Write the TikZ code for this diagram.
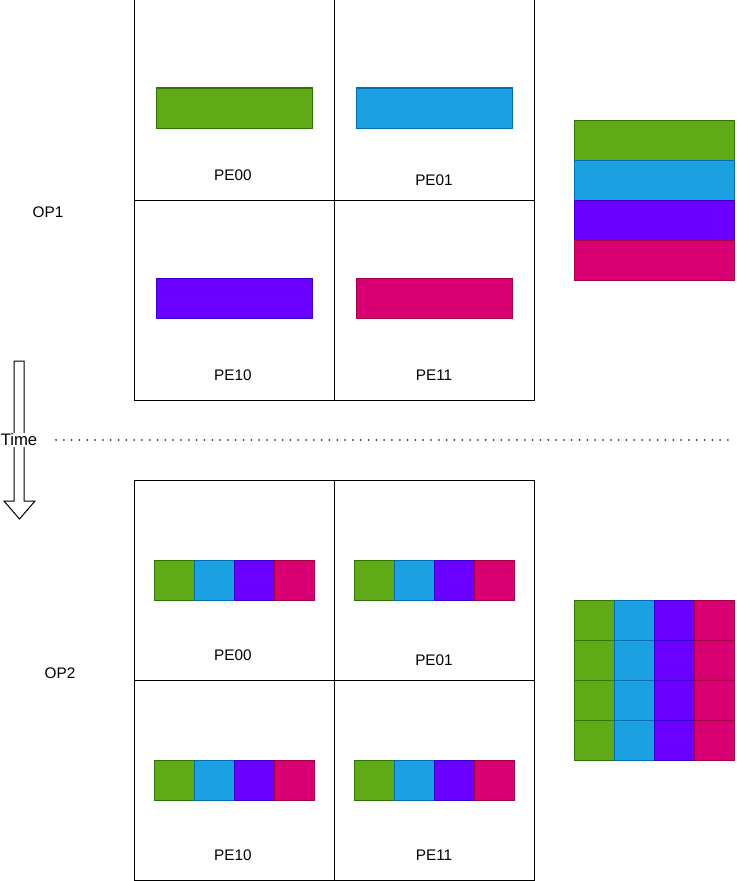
\documentclass[tikz,border=0pt]{standalone}
\usepackage{fontspec}
\setmainfont{Liberation Sans}
\usepackage{tikz}
\usetikzlibrary{positioning}
\definecolor{cgreen}{HTML}{60A917}
\definecolor{cgreenl}{HTML}{2D7600}
\definecolor{cblue}{HTML}{1BA1E2}
\definecolor{cbluel}{HTML}{006EAF}
\definecolor{cpurple}{HTML}{6A00FF}
\definecolor{cpurplel}{HTML}{3700CC}
\definecolor{cpink}{HTML}{D80073}
\definecolor{cpinkl}{HTML}{A50040}
\tikzset{
  celda/.style={draw,line width=0.75pt,minimum size=150pt,inner sep=0pt},
  barra/.style={draw=#1l,fill=#1,line width=0.75pt,minimum width=117pt,minimum height=30pt,inner sep=0pt},
  banda/.style={draw=#1l,fill=#1,line width=0.75pt,minimum width=120pt,minimum height=30pt,inner sep=0pt},
  cuad/.style={draw=#1l,fill=#1,line width=0.75pt,minimum size=30pt,inner sep=0pt},
  etiq/.style={font=\fontsize{11.5}{13}\selectfont,inner sep=1pt}
}
\begin{document}
\begin{tikzpicture}[x=0.75pt,y=-0.75pt]
\useasboundingbox (0,0) rectangle (737,881);
% OP1
\node[celda] (a00) at (234,100) {};
\node[celda] (a01) at (434,100) {};
\node[celda] (a10) at (234,300) {};
\node[celda] (a11) at (434,300) {};
\node[barra=cgreen] (g) at (234,108) {};
\node[barra=cblue] (b) at (434.5,108) {};
\node[barra=cpurple] (p) at (234,298) {};
\node[barra=cpink] (r) at (434.5,298) {};
\node[etiq] (l00) at (233,175) {PE00};
\node[etiq] (l01) at (434,180) {PE01};
\node[etiq] (l10) at (233,375) {PE10};
\node[etiq] (l11) at (434,375) {PE11};
\node[etiq] (op1) at (48,212) {OP1};
\foreach \c [count=\i from 0] in {cgreen,cblue,cpurple,cpink}
  \node[banda=\c] (s\i) at (654,140+40*\i) {};
% tiempo
\draw[line width=0.75pt,fill=white] (14,361) -- (24,361) -- (24,501) -- (35,501) -- (19.5,519) -- (4,501) -- (14,501) -- cycle;
\node[etiq,font=\fontsize{12.5}{14}\selectfont,fill=white,inner sep=0.5pt] (time) at (19,440) {Time};
\coordinate (d0) at (56,440);
\coordinate (d1) at (731,440);
\draw[line width=1.5pt,dash pattern=on 0.01pt off 5.85pt,line cap=round,black!80] (d0) -- (d1);
% OP2
\node[celda] (b00) at (234,580) {};
\node[celda] (b01) at (434,580) {};
\node[celda] (b10) at (234,780) {};
\node[celda] (b11) at (434,780) {};
\foreach \c [count=\i from 0] in {cgreen,cblue,cpurple,cpink}{
  \node[cuad=\c] (q00\i) at (174+40*\i,580) {};
  \node[cuad=\c] (q01\i) at (374+40*\i,580) {};
  \node[cuad=\c] (q10\i) at (174+40*\i,780) {};
  \node[cuad=\c] (q11\i) at (374+40*\i,780) {};
  \foreach \j in {0,...,3}
    \node[cuad=\c] (m\j\i) at (594+40*\i,620+40*\j) {};
}
\node[etiq] (k00) at (233,655) {PE00};
\node[etiq] (k01) at (434,660) {PE01};
\node[etiq] (k10) at (233,855) {PE10};
\node[etiq] (k11) at (434,855) {PE11};
\node[etiq] (op2) at (60,673) {OP2};
\end{tikzpicture}
\end{document}
